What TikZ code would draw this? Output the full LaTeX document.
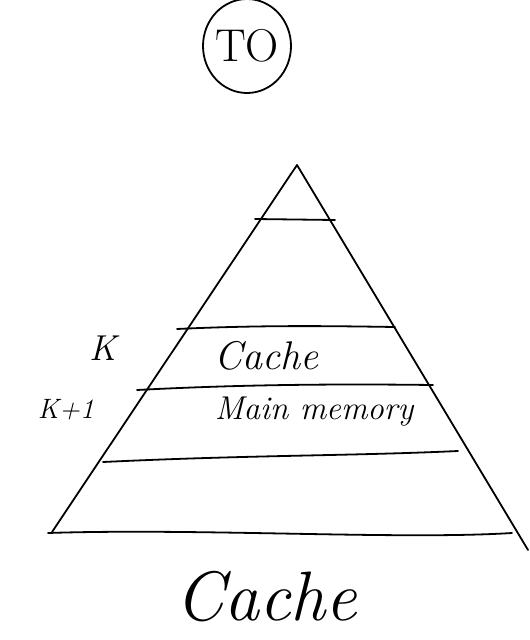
\documentclass[tikz,border=0pt]{standalone}
\usepackage{tikz}
\tikzset{
  pen/.style={line width=1.8pt, line cap=round, line join=round, black},
  hand/.style={inner sep=0pt},
}
\newcommand{\hsz}[1]{\fontsize{#1}{#1}\selectfont\itshape}
\newcommand{\usz}[1]{\fontsize{#1}{#1}\selectfont}
\begin{document}
\begin{tikzpicture}[x=1pt,y=-1pt]
\useasboundingbox (0,0) rectangle (530,640);
% circled TO
\node[hand, font=\usz{46}] (to) at (247,46) {TO};
\draw[pen] (to) ellipse [x radius=44, y radius=47];
% pyramid
\coordinate (apex) at (297,165);
\coordinate (bl) at (52,532);
\coordinate (br) at (528,550);
\draw[pen] (bl) -- (apex) -- (br);
\coordinate (b1) at (48,533);
\coordinate (b2) at (512,533);
\draw[pen] (b1) .. controls (200,528) and (400,540) .. (b2);
% top layer
\coordinate (t1) at (255,219);
\coordinate (t2) at (335,220);
\draw[pen] (t1) -- (t2);
% layer lines
\coordinate (c1) at (177,329);
\coordinate (c2) at (395,327);
\draw[pen] (c1) .. controls (260,325) and (330,326) .. (c2);
\coordinate (m1) at (137,390);
\coordinate (m2) at (433,385);
\draw[pen] (m1) .. controls (250,384) and (350,384) .. (m2);
\coordinate (n1) at (103,462);
\coordinate (n2) at (458,451);
\draw[pen] (n1) .. controls (250,455) and (350,456) .. (n2);
% labels
\node[hand, font=\hsz{36}] (k) at (103,348) {K};
\node[hand, font=\hsz{28}] (k1) at (66,410) {K+1};
\node[hand, font=\hsz{40}] (cache) at (266,356) {Cache};
\node[hand, font=\hsz{33}] (mm) at (314,412) {Main memory};
\node[hand, font=\hsz{70}] (title) at (266,597) {Cache};
\end{tikzpicture}
\end{document}
